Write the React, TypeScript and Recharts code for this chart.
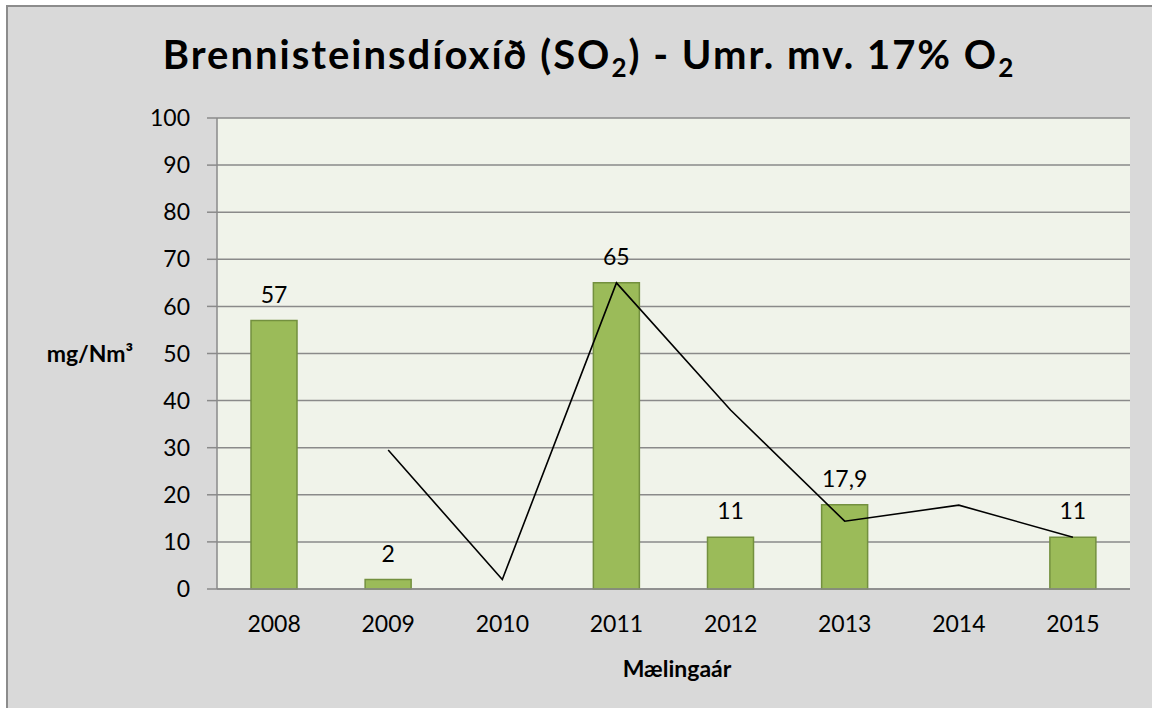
import React from "react";
import { ComposedChart, Bar, Line, XAxis, YAxis, CartesianGrid, LabelList } from "recharts";

const years = ["2008", "2009", "2010", "2011", "2012", "2013", "2014", "2015"];
const barValues: (number | null)[] = [57, 2, null, 65, 11, 17.9, null, 11];
const lineValues: (number | null)[] = [null, 29.5, 2, 65, 38, 14.4, 17.8, 11];
const yTicks = [0, 10, 20, 30, 40, 50, 60, 70, 80, 90, 100];

const data = years.map((y, i) => ({ year: y, bar: barValues[i], line: lineValues[i] }));

const FONT = "Lato, 'Open Sans', sans-serif";

const fmt = (v: any) => (v === null || v === undefined ? "" : String(v).replace(".", ","));

export default function App() {
  return (
    <div style={{ position: "absolute", left: 0, top: 0, width: 1152, height: 708, overflow: "hidden", background: "#ffffff" }}>
      <div
        style={{
          position: "absolute",
          left: 6,
          top: 5,
          width: 1152,
          height: 708,
          background: "#D9D9D9",
          borderTop: "2px solid #8C8C8C",
          borderLeft: "2px solid #8C8C8C",
        }}
      />
      <div style={{ position: "absolute", left: 0, top: 0 }}>
        <ComposedChart width={1152} height={708} data={data} margin={{ top: 118, right: 22, bottom: 0, left: 0 }}>
          <CartesianGrid vertical={false} fill="#F0F3EA" stroke="#8A8A8A" strokeWidth={1.5} />
          <XAxis
            dataKey="year"
            height={119}
            tickLine={false}
            axisLine={{ stroke: "#8A8A8A", strokeWidth: 1.5 }}
            tick={{ fill: "#000", fontSize: 23, fontFamily: FONT }}
            tickMargin={21}
            interval={0}
          />
          <YAxis
            width={217}
            domain={[0, 100]}
            ticks={yTicks}
            interval={0}
            axisLine={{ stroke: "#8A8A8A", strokeWidth: 1.5 }}
            tickLine={{ stroke: "#8A8A8A", strokeWidth: 1.5 }}
            tickSize={10}
            tickMargin={17}
            tick={{ fill: "#000", fontSize: 23, fontFamily: FONT }}
          />
          <Bar dataKey="bar" fill="#9BBB59" stroke="#73903F" strokeWidth={1.5} barSize={46} isAnimationActive={false}>
            <LabelList dataKey="bar" position="top" offset={18} formatter={fmt} style={{ fill: "#000", fontSize: 23, fontFamily: FONT }} />
          </Bar>
          <Line dataKey="line" stroke="#000" strokeWidth={1.6} dot={false} activeDot={false} isAnimationActive={false} type="linear" />
        </ComposedChart>
      </div>
      <div
        style={{
          position: "absolute",
          left: 0,
          width: 1178,
          top: 34,
          textAlign: "center",
          fontFamily: FONT,
          fontWeight: 700,
          fontSize: 40,
          lineHeight: "40px",
          letterSpacing: 2,
          color: "#000",
          whiteSpace: "nowrap",
        }}
      >
        Brennisteinsdíoxíð (SO<sub style={{ fontSize: 26, lineHeight: "0px", verticalAlign: "-8px" }}>2</sub>) - Umr. mv. 17% O
        <sub style={{ fontSize: 26, lineHeight: "0px", verticalAlign: "-8px" }}>2</sub>
      </div>
      <div
        style={{
          position: "absolute",
          left: 40,
          width: 100,
          top: 342,
          textAlign: "center",
          fontFamily: FONT,
          fontWeight: 700,
          fontSize: 23,
          lineHeight: "23px",
          color: "#000",
          whiteSpace: "nowrap",
        }}
      >
        mg/Nm³
      </div>
      <div
        style={{
          position: "absolute",
          left: 577,
          width: 200,
          top: 657,
          textAlign: "center",
          fontFamily: FONT,
          fontWeight: 700,
          fontSize: 23,
          lineHeight: "23px",
          color: "#000",
          whiteSpace: "nowrap",
        }}
      >
        Mælingaár
      </div>
    </div>
  );
}
